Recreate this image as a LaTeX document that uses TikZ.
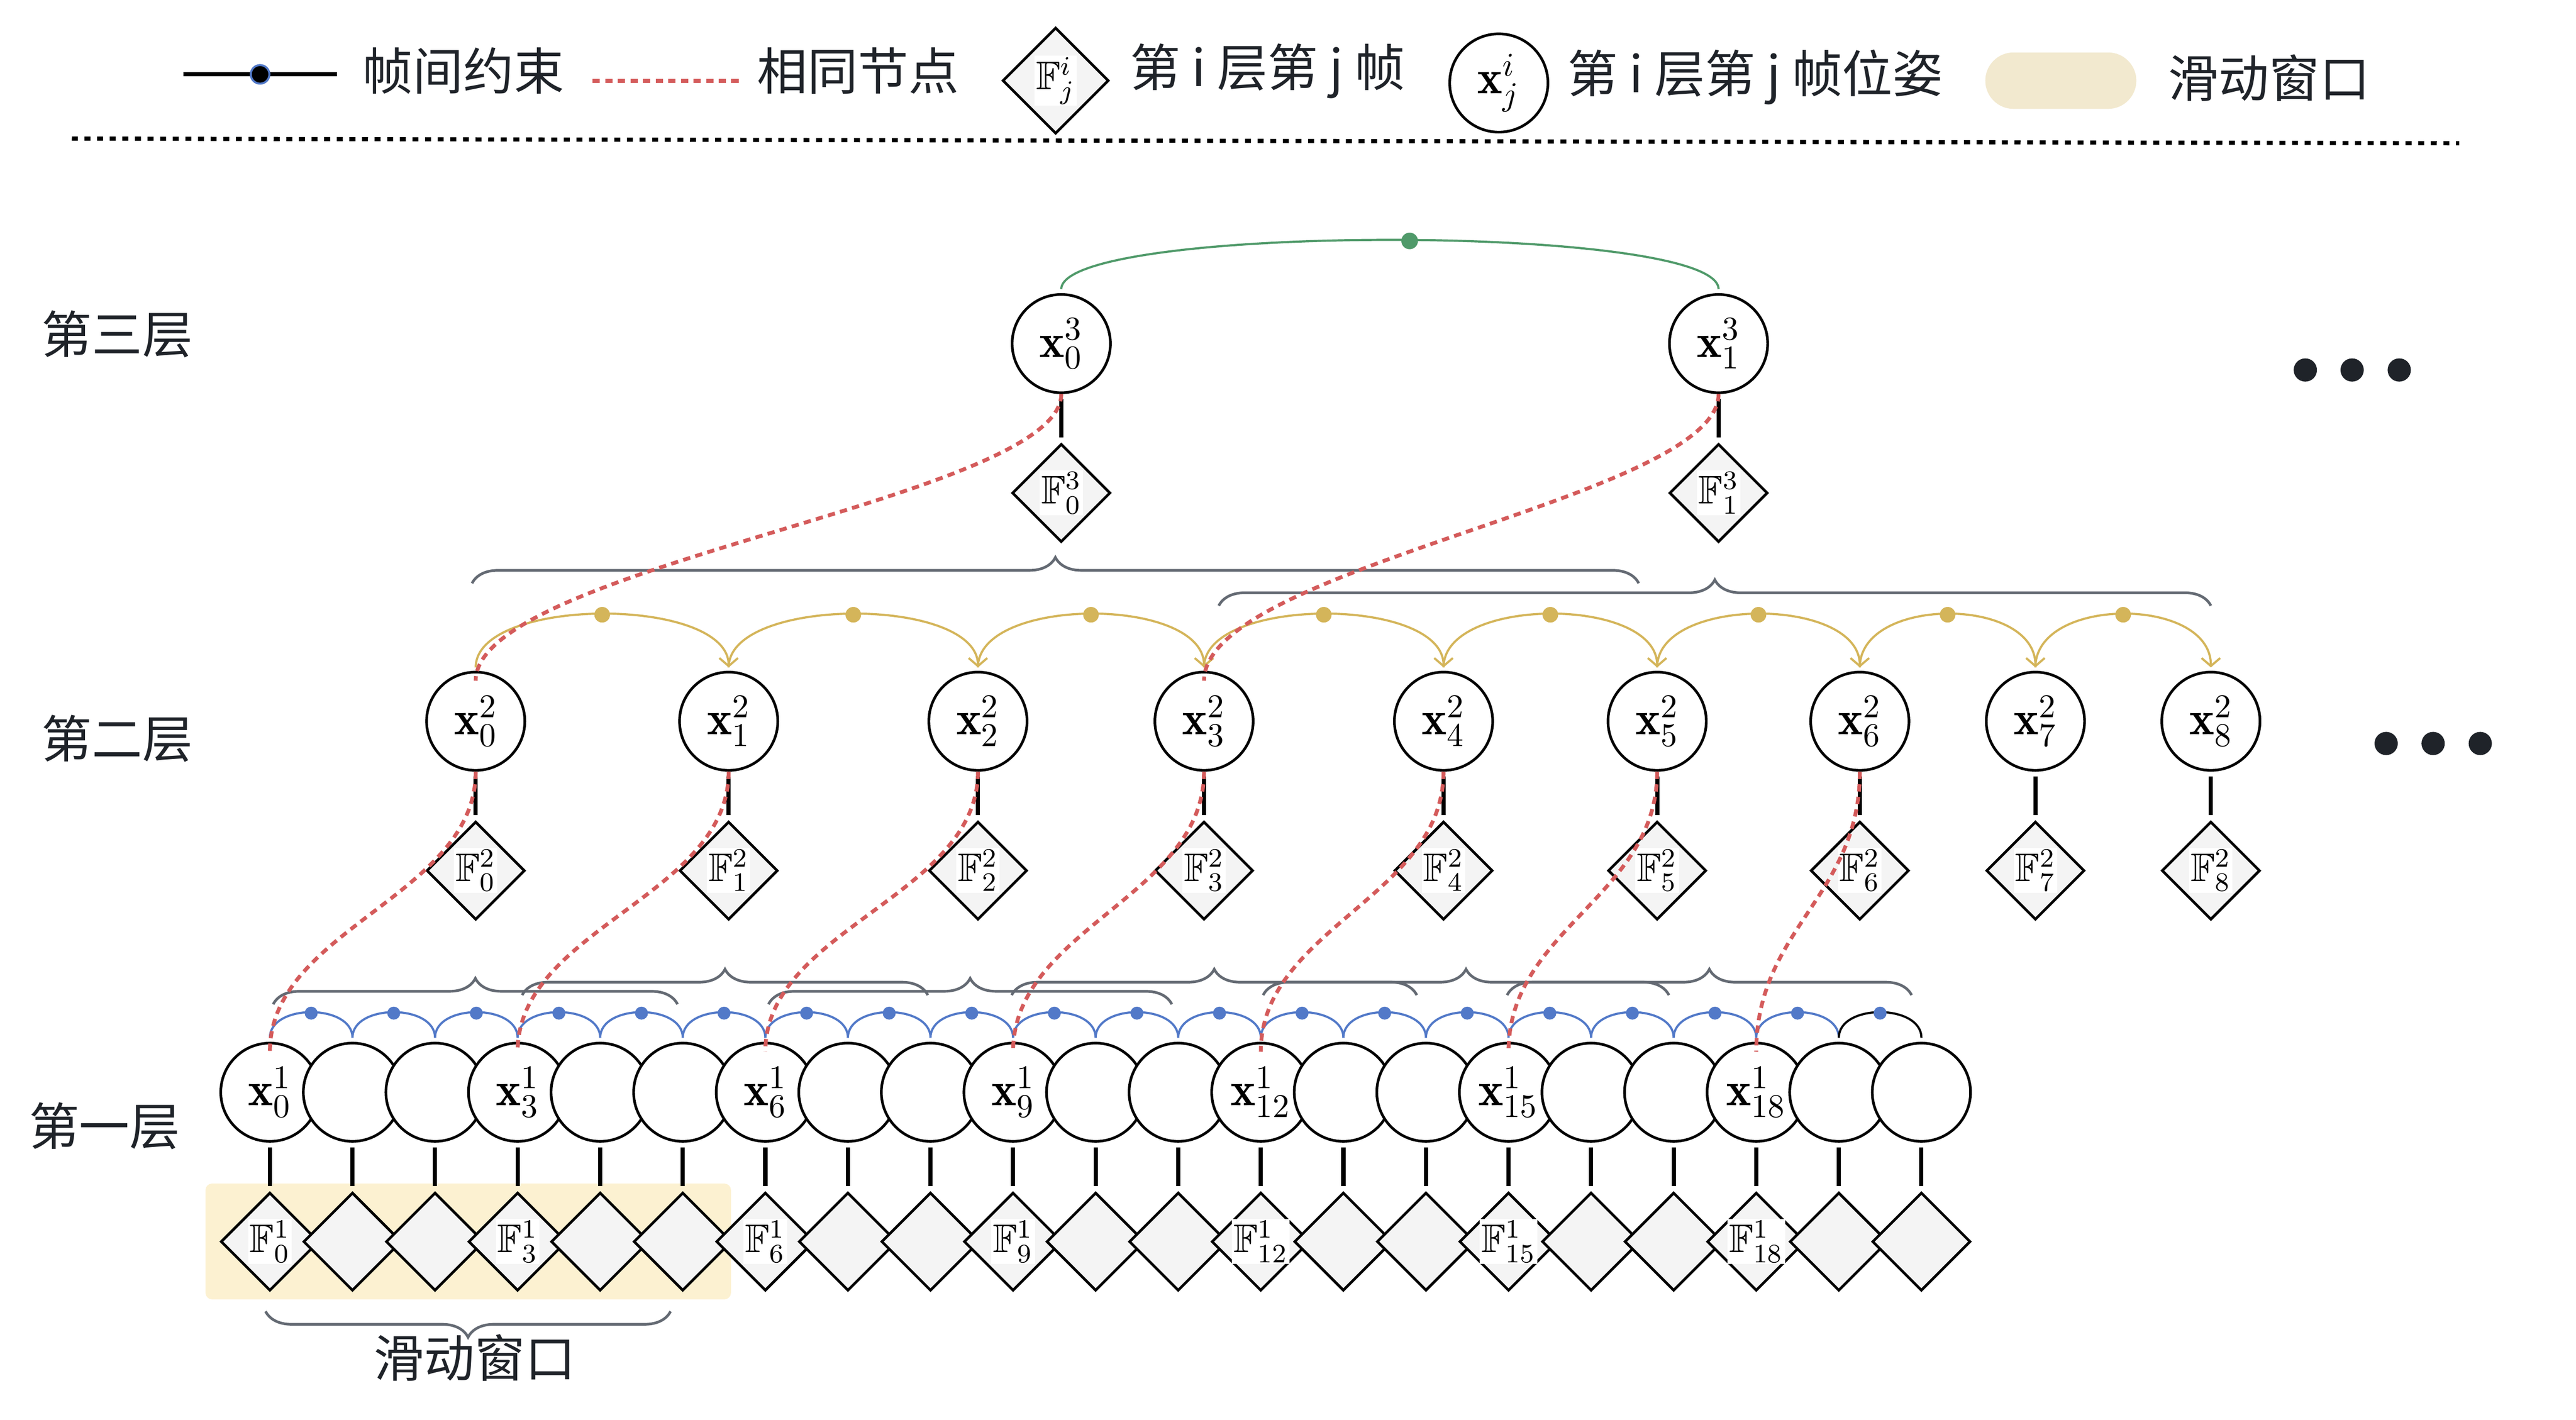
\documentclass[tikz,border=0pt]{standalone}
\usepackage{amsmath}
\usepackage{amssymb}
\usepackage{fontspec}
\newfontfamily\cjk{Noto Sans CJK SC}
\usetikzlibrary{arrows.meta,positioning,shapes.geometric,decorations.pathreplacing}
\definecolor{txtdark}{RGB}{31,35,41}
\definecolor{linkblue}{RGB}{82,121,200}
\definecolor{linkgold}{RGB}{212,181,90}
\definecolor{linkgreen}{RGB}{80,154,106}
\definecolor{samered}{RGB}{212,91,91}
\definecolor{bracegray}{RGB}{100,106,115}
\definecolor{windowfill}{RGB}{252,241,209}
\definecolor{swatchfill}{RGB}{242,233,207}
\definecolor{framefill}{RGB}{244,244,244}
\tikzset{
    pose/.style = {
        draw, circle, thick,
        fill = white,
        minimum size = 29.6pt,
        inner sep = 0pt,
        font = \Large,
        },
    keyframe/.style = {
        draw, diamond, thick,
        fill = framefill,
        minimum size = 29.6pt,
        inner sep = 0pt,
        },
    frame label/.style = {
        fill = white,
        inner sep = 0.5pt,
        font = \large,
        },
    pose link/.style = {
        line width = 1.25pt,
        shorten <=1.5pt,
        shorten >=1.5pt,
        },
    blue link/.style = {
        draw = linkblue,
        line width = 0.65pt,
        shorten <=1.2pt,
        shorten >=1.2pt,
        },
    last link/.style = {
        draw = black,
        line width = 0.65pt,
        shorten <=1.2pt,
        shorten >=1.2pt,
        },
    gold link/.style = {
        draw = linkgold,
        line width = 0.65pt,
        shorten <=1pt,
        shorten >=1pt,
        -{Straight Barb[length=2.4pt,width=5.6pt]},
        },
    green link/.style = {
        draw = linkgreen,
        line width = 0.65pt,
        shorten <=1.2pt,
        shorten >=1.2pt,
        },
    blue dot/.style = {
        circle, inner sep=0pt,
        fill = linkblue,
        minimum size = 3.9pt,
        },
    gold dot/.style = {
        circle, inner sep=0pt,
        fill = linkgold,
        minimum size = 4.7pt,
        },
    green dot/.style = {
        circle, inner sep=0pt,
        fill = linkgreen,
        minimum size = 5pt,
        },
    legend dot/.style = {
        circle, inner sep=0pt,
        fill = black,
        draw = linkblue,
        line width = 0.6pt,
        minimum size = 5.6pt,
        },
    more dot/.style = {
        circle, inner sep=0pt,
        fill = txtdark,
        minimum size = 7pt,
        },
    same node/.style = {
        draw = samered,
        line width = 1.15pt,
        dash pattern = on 2.2pt off 1.6pt,
        shorten >=-3pt,
        },
    separator/.style = {
        line width = 1.25pt,
        dash pattern = on 1.8pt off 2pt,
        },
    window brace/.style = {
        draw = bracegray,
        line width = 0.8pt,
        decorate,
        decoration = {brace, amplitude=7.8pt},
        },
    swatch/.style = {
        rectangle,
        rounded corners = 8.5pt,
        fill = swatchfill,
        minimum width = 45.5pt,
        minimum height = 17pt,
        },
    layer text/.style = {
        font = \cjk\fontsize{15.2pt}{18pt}\selectfont,
        text = txtdark,
        inner sep = 0pt,
        },
}

\begin{document}
\begin{tikzpicture}[x=0.5pt, y=-0.5pt, node distance=14.6pt]
            \useasboundingbox (0,0) rectangle (1552,855.2);

            % legend
            \coordinate (lk1) at (110.4,44.8);
            \coordinate (lk2) at (203,44.8);
            \draw[line width=1.25pt] (lk1) -- (lk2) node[midway, legend dot] (lkd) {};
            \node[layer text, anchor=west] (lt1) at (218,42.8) {帧间约束};
            \coordinate (ls1) at (357,48.7);
            \coordinate (ls2) at (448,48.7);
            \draw[same node, shorten >=0pt] (ls1) -- (ls2);
            \node[layer text, anchor=west] (lt2) at (455.7,42.8) {相同节点};
            \node[keyframe, minimum size=32pt] (lf) at (636,48.6) {};
            \node[frame label] (lfl) at (lf) {$\mathbb{F}^i_j$};
            \node[layer text, anchor=west] (lt3) at (680.6,42.8) {第 i 层第 j 帧};
            \node[pose] (lx) at (903,50) {$\mathbf{x}^i_j$};
            \node[layer text, anchor=west] (lt4) at (944,46.5) {第 i 层第 j 帧位姿};
            \node[swatch] (lw) at (1241.6,48.6) {};
            \node[layer text, anchor=west] (lt5) at (1306,46.9) {滑动窗口};
            \coordinate (sep1) at (43.3,83.5);
            \coordinate (sep2) at (1481.6,86.3);
            \draw[separator] (sep1) -- (sep2);

            % layer names
            \node[layer text] (l3) at (70.7,201.4) {第三层};
            \node[layer text] (l2) at (70.7,445) {第二层};
            \node[layer text] (l1) at (63,678.5) {第一层};

            % sliding window
            \fill[windowfill, rounded corners=2pt] (123.8,713) rectangle (440.4,782.8);

            % first layer
            \foreach \i in {0,...,20}{
                \pgfmathtruncatemacro\r{mod(\i,3)}
                \node[pose] (xa\i) at ({162.6+49.75*\i},658) {\ifnum\r=0 $\mathbf{x}^1_{\i}$\fi};
            }
            \foreach \i in {0,...,20}{
                \pgfmathtruncatemacro\r{mod(\i,3)}
                \node[keyframe, below=of xa\i] (fa\i) {};
                \ifnum\r=0 \node[frame label] (fla\i) at (fa\i) {$\mathbb{F}^1_{\i}$};\fi
                \draw[pose link] (xa\i) -- (fa\i);
            }

            % second layer
            \node[pose] (xb0) at (286.6,434.5) {$\mathbf{x}^2_0$};
            \node[pose] (xb1) at (439,434.5) {$\mathbf{x}^2_1$};
            \node[pose] (xb2) at (589.2,434.5) {$\mathbf{x}^2_2$};
            \node[pose] (xb3) at (725.4,434.5) {$\mathbf{x}^2_3$};
            \node[pose] (xb4) at (869.7,434.5) {$\mathbf{x}^2_4$};
            \node[pose] (xb5) at (998.4,434.5) {$\mathbf{x}^2_5$};
            \node[pose] (xb6) at (1120.5,434.5) {$\mathbf{x}^2_6$};
            \node[pose] (xb7) at (1226.3,434.5) {$\mathbf{x}^2_7$};
            \node[pose] (xb8) at (1332,434.5) {$\mathbf{x}^2_8$};
            \foreach \i in {0,...,8}{
                \node[keyframe, below=of xb\i] (fb\i) {};
                \node[frame label] (flb\i) at (fb\i) {$\mathbb{F}^2_{\i}$};
                \draw[pose link] (xb\i) -- (fb\i);
            }

            % third layer
            \node[pose] (xc0) at (639.4,207) {$\mathbf{x}^3_0$};
            \node[pose] (xc1) at (1035.4,207) {$\mathbf{x}^3_1$};
            \node[keyframe, below=of xc0] (fc0) {};
            \node[frame label] (flc0) at (fc0) {$\mathbb{F}^3_0$};
            \node[keyframe, below=of xc1] (fc1) {};
            \node[frame label] (flc1) at (fc1) {$\mathbb{F}^3_1$};
            \draw[pose link] (xc0) -- (fc0);
            \draw[pose link] (xc1) -- (fc1);

            % windows
            \draw[window brace] (164.6,605) -- (408.2,605);
            \draw[window brace] (463,605) -- (706,605);
            \draw[window brace] (314.6,599.5) -- (559,599.5);
            \draw[window brace] (609.5,599.5) -- (853.6,599.5);
            \draw[window brace] (761,599.5) -- (1005.5,599.5);
            \draw[window brace] (908,599.5) -- (1151.7,599.5);
            \draw[window brace] (284.4,351.4) -- (987.3,351.4);
            \draw[window brace] (734.3,364.9) -- (1332,364.9);
            \draw[window brace] (404,790) -- (160,790);
            \node[layer text] (wl) at (286,818) {滑动窗口};

            % constraints between frames
            \foreach \i [evaluate=\i as \j using int(\i+1)] in {0,...,18}
                \draw[blue link] (xa\i.north) .. controls +(0,-23) and +(0,-23) .. (xa\j.north) node[pos=0.5, blue dot] (da\i) {};
            \draw[last link] (xa19.north) .. controls +(0,-23) and +(0,-23) .. (xa20.north) node[pos=0.5, blue dot] (da19) {};
            \foreach \i [evaluate=\i as \j using int(\i+1)] in {0,...,7}
                \draw[gold link] (xb\i.north) .. controls +(0,-45) and +(0,-45) .. (xb\j.north) node[pos=0.5, gold dot] (db\i) {};
            \draw[green link] (xc0.north) .. controls +(0,-42) and +(0,-42) .. (xc1.north) node[pos=0.52, green dot] (dc0) {};

            % same nodes
            \draw[same node] (xc0.south) .. controls +(0,63) and +(0,-63) .. (xb0.north);
            \draw[same node] (xc1.south) .. controls +(0,63) and +(0,-63) .. (xb3.north);
            \foreach \j in {0,...,6}{
                \pgfmathtruncatemacro\k{3*\j}
                \draw[same node] (xb\j.south) .. controls +(0,75) and +(0,-68) .. (xa\k.north);
            }

            % more layers
            \foreach \x [count=\n] in {1388.9,1417.1,1445.5}
                \node[more dot] (mu\n) at (\x,222.9) {};
            \foreach \x [count=\n] in {1437.6,1465.9,1494.3}
                \node[more dot] (md\n) at (\x,447.9) {};
        \end{tikzpicture}
\end{document}
